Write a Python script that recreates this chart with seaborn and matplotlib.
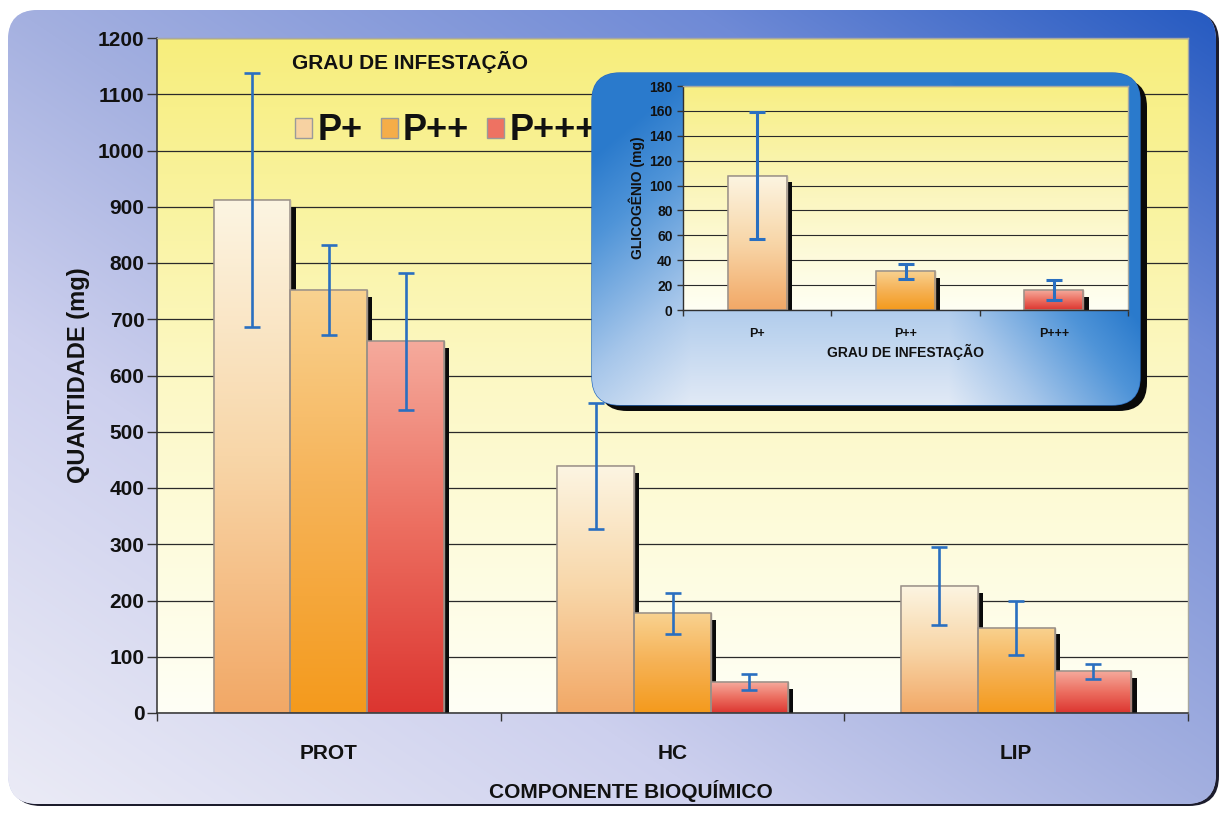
import numpy as np
import pandas as pd
import matplotlib
matplotlib.use("Agg")
import matplotlib.pyplot as plt
import seaborn as sns
from matplotlib.patches import FancyBboxPatch, Rectangle, Patch
from matplotlib.colors import LinearSegmentedColormap, to_rgb
import matplotlib.patheffects as pe

# ---- data -------------------------------------------------------------
componentes = ["PROT", "HC", "LIP"]
graus = ["P+", "P++", "P+++"]
media_p1 = [912, 439, 226]
media_p2 = [752, 177, 152]
media_p3 = [661, 55, 74]
dp_p1 = [225, 112, 70]
dp_p2 = [80, 37, 48]
dp_p3 = [122, 14, 14]

glicogenio = [108, 31, 16]
dp_glicogenio = [51, 6, 8]

y_ticks = list(range(0, 1201, 100))
y_ticks_glic = list(range(0, 181, 20))

# ---- style ------------------------------------------------------------
sns.set_theme(style="white")
plt.rcParams["font.family"] = ["Liberation Sans", "DejaVu Sans"]
plt.rcParams["font.weight"] = "bold"
plt.rcParams["axes.labelweight"] = "bold"
TXT = "#111111"
ERR = "#2a6fc0"
EDGE = "#9a9088"
GRID = "#2a2a2a"

bar_stops = {
    "P+": [(0.0, "#f2a866"), (0.5, "#f8d6a8"), (1.0, "#fcf5e2")],
    "P++": [(0.0, "#f49a1c"), (0.55, "#f6b45a"), (1.0, "#f9d290")],
    "P+++": [(0.0, "#dc3530"), (0.5, "#ec6e60"), (1.0, "#f5aa9c")],
}
swatch = {"P+": "#f7d2a2", "P++": "#f5ad48", "P+++": "#ee7262"}

W, H = 1222, 814
fig = plt.figure(figsize=(W / 100, H / 100), dpi=100)
fig.patch.set_facecolor("white")


def fx(px):
    return px / W


def fy(py):
    return 1 - py / H


def ramp(t, stops):
    pos = [p for p, _ in stops]
    cols = np.array([to_rgb(c) for _, c in stops])
    return np.stack([np.interp(t, pos, cols[:, k]) for k in range(3)], axis=-1)


def vgrad(ax, x0, x1, y0, y1, stops, clip=None, z=1.5):
    cmap = LinearSegmentedColormap.from_list("g", stops)
    arr = np.linspace(0, 1, 256).reshape(-1, 1)
    im = ax.imshow(arr, cmap=cmap, extent=(x0, x1, y0, y1), origin="lower",
                   aspect="auto", zorder=z, interpolation="bicubic")
    if clip is not None:
        im.set_clip_path(clip)
    return im


# ---- outer rounded panel ---------------------------------------------
bg = fig.add_axes([0, 0, 1, 1], zorder=-10)
bg.set_xlim(0, W)
bg.set_ylim(H, 0)
bg.axis("off")
yy, xx = np.mgrid[0:H, 0:W]
xn, yn = xx / W, 1 - yy / H
t = np.clip(0.5 * xn + 0.5 * yn, 0, 1)
panel = ramp(t, [(0, "#ececf6"), (0.3, "#cdd0ee"), (0.5, "#a4b0e0"),
                 (0.78, "#6f8ad6"), (1, "#2258c0")])
shadow_outer = FancyBboxPatch((11, 12), 1208, 794, boxstyle="round,pad=0,rounding_size=30",
                              facecolor="#1c1c2c", edgecolor="none")
bg.add_patch(shadow_outer)
frame = FancyBboxPatch((8, 10), 1208, 794, boxstyle="round,pad=0,rounding_size=30",
                       facecolor="#c0c8ea", edgecolor="none")
bg.add_patch(frame)
im = bg.imshow(panel, extent=(0, W, H, 0), zorder=1)
im.set_clip_path(frame)

# ---- main chart -------------------------------------------------------
ax = fig.add_axes([fx(157), fy(713), (1188 - 157) / W, (713 - 38) / H], zorder=1)
df = pd.DataFrame({
    "componente": componentes * 3,
    "grau": [g for g in graus for _ in componentes],
    "valor": media_p1 + media_p2 + media_p3,
    "dp": dp_p1 + dp_p2 + dp_p3,
})
sns.barplot(data=df, x="componente", y="valor", hue="grau", order=componentes,
            hue_order=graus, palette=swatch, errorbar=None, width=0.67, gap=0,
            saturation=1, edgecolor=EDGE, linewidth=1, legend=False, ax=ax)

# yellow plot-area wash
vgrad(ax, -0.5, 2.5, 0, 1200, [(0, "#fffff6"), (0.5, "#fcf8c4"), (1, "#f7ee7c")], z=0.1)


def dress_bars(ax, bars, grades):
    for patch, g in zip(bars, grades):
        x, w, h = patch.get_x(), patch.get_width(), patch.get_height()
        patch.set_path_effects([pe.SimplePatchShadow(offset=(3.8, -4.8), shadow_rgbFace="#0a0a0a", alpha=1.0),
                                pe.Normal()])
        vgrad(ax, x, x + w, 0, h, bar_stops[g], clip=patch, z=1.5)
        ax.add_patch(Rectangle((x, 0), w, h, fill=False, edgecolor=EDGE, linewidth=1.1, zorder=1.6))


bars = list(ax.patches)
bar_grades = [g for g in graus for _ in componentes]
dress_bars(ax, bars, bar_grades)

xs = [p.get_x() + p.get_width() / 2 for p in bars]
hs = [p.get_height() for p in bars]
ax.errorbar(xs, hs, yerr=df["dp"].to_numpy(), fmt="none", ecolor=ERR, elinewidth=1.9,
            capsize=5.8, capthick=1.9, zorder=3)

ax.set_xlim(-0.5, 2.5)
ax.set_ylim(0, 1200)
ax.set_yticks(y_ticks)
ax.yaxis.grid(True, color=GRID, linewidth=0.9)
ax.xaxis.grid(False)
ax.set_axisbelow(True)
ax.tick_params(axis="y", which="major", left=True, length=7, width=1, color="#333333",
               labelsize=15, pad=2, labelcolor=TXT)
ax.set_xticks([-0.5, 0.5, 1.5, 2.5], minor=True)
ax.tick_params(axis="x", which="minor", bottom=True, length=6, width=1, color="#333333")
ax.tick_params(axis="x", which="major", length=0, labelsize=15, pad=22, labelcolor=TXT)
for s in ("left", "bottom"):
    ax.spines[s].set_color("#303030")
    ax.spines[s].set_linewidth(1.1)
for s in ("top", "right"):
    ax.spines[s].set_color("#a8a8a0")
    ax.spines[s].set_linewidth(1)
ax.set_xlabel("COMPONENTE BIOQUÍMICO", fontsize=15, color=TXT)
ax.xaxis.set_label_coords((631 - 157) / (1188 - 157), -0.099)
ax.set_ylabel("QUANTIDADE (mg)", fontsize=17, color=TXT, labelpad=6)

# legend
ax.text(fx(292), fy(62), "GRAU DE INFESTAÇÃO", transform=fig.transFigure, fontsize=15,
        color=TXT, ha="left", va="center", zorder=4)
handles = [Patch(facecolor=swatch[g], edgecolor="#9a9a9a", linewidth=1) for g in graus]
ax.legend(handles, graus, ncol=3, loc="center left", bbox_to_anchor=(fx(295), fy(131)),
          bbox_transform=fig.transFigure, frameon=False, fontsize=26, handlelength=0.47,
          handleheight=0.47, handletextpad=0.15, columnspacing=0.5, borderpad=0,
          borderaxespad=0, labelcolor=TXT)

# ---- inset panel -------------------------------------------------------
ov = fig.add_axes([0, 0, 1, 1], zorder=5)
ov.set_xlim(0, W)
ov.set_ylim(H, 0)
ov.axis("off")
ov.patch.set_alpha(0)
ix0, iy0, iw, ih = 592, 73, 548, 332
ov.add_patch(FancyBboxPatch((ix0 + 7, iy0 + 6), iw, ih, boxstyle="round,pad=0,rounding_size=28",
                            facecolor="#0a0a0a", edgecolor="none"))
iframe = FancyBboxPatch((ix0, iy0), iw, ih, boxstyle="round,pad=0,rounding_size=28",
                        facecolor="#8ab4e4", edgecolor="#2a6cc0", linewidth=1)
ov.add_patch(iframe)
gy, gx = np.mgrid[0:ih, 0:iw]
gxn, gyn = gx / iw, 1 - gy / ih
v = np.clip(gyn * 1.0 + np.clip(gxn - 0.65, 0, None) / 0.35 * 0.75
            + np.clip(0.18 - gxn, 0, None) / 0.18 * 0.25, 0, 1)
ipanel = ramp(v, [(0, "#e2eaf6"), (0.35, "#a6c6ea"), (0.75, "#4f94d8"), (1, "#2a7acc")])
iim = ov.imshow(ipanel, extent=(ix0, ix0 + iw, iy0 + ih, iy0), zorder=2)
iim.set_clip_path(iframe)

ax2 = fig.add_axes([fx(683), fy(310), 445 / W, 224 / H], zorder=6)
df2 = pd.DataFrame({"grau": graus, "valor": glicogenio, "dp": dp_glicogenio})
sns.barplot(data=df2, x="grau", y="valor", hue="grau", order=graus, hue_order=graus,
            palette=swatch, errorbar=None, width=0.4, saturation=1, edgecolor=EDGE,
            linewidth=1, legend=False, ax=ax2)
vgrad(ax2, -0.5, 2.5, 0, 180, [(0, "#fffff4"), (0.5, "#fbf6c0"), (1, "#f8ef84")], z=0.1)
bars2 = sorted(ax2.patches, key=lambda p: p.get_x())
dress_bars(ax2, bars2, graus)
xs2 = [p.get_x() + p.get_width() / 2 for p in bars2]
hs2 = [p.get_height() for p in bars2]
ax2.errorbar(xs2, hs2, yerr=dp_glicogenio, fmt="none", ecolor=ERR, elinewidth=2.2,
             capsize=6, capthick=2.2, zorder=3)
ax2.set_xlim(-0.5, 2.5)
ax2.set_ylim(0, 180)
ax2.set_yticks(y_ticks_glic)
ax2.yaxis.grid(True, color=GRID, linewidth=0.8)
ax2.set_axisbelow(True)
ax2.tick_params(axis="y", left=True, length=4.5, width=1, color="#333333", labelsize=10,
                pad=3, labelcolor=TXT)
ax2.set_xticks([-0.5, 0.5, 1.5, 2.5], minor=True)
ax2.tick_params(axis="x", which="minor", bottom=True, length=4, width=1, color="#333333")
ax2.tick_params(axis="x", which="major", length=0, labelsize=9, pad=13, labelcolor=TXT)
for s in ("left", "bottom"):
    ax2.spines[s].set_color("#303030")
    ax2.spines[s].set_linewidth(1)
for s in ("top", "right"):
    ax2.spines[s].set_color("#a8a8a0")
    ax2.spines[s].set_linewidth(1)
ax2.set_xlabel("GRAU DE INFESTAÇÃO", fontsize=10, color=TXT, labelpad=3)
ax2.set_ylabel("GLICOGÊNIO (mg)", fontsize=10, color=TXT, labelpad=3)

fig.savefig("out.png", dpi=100)
